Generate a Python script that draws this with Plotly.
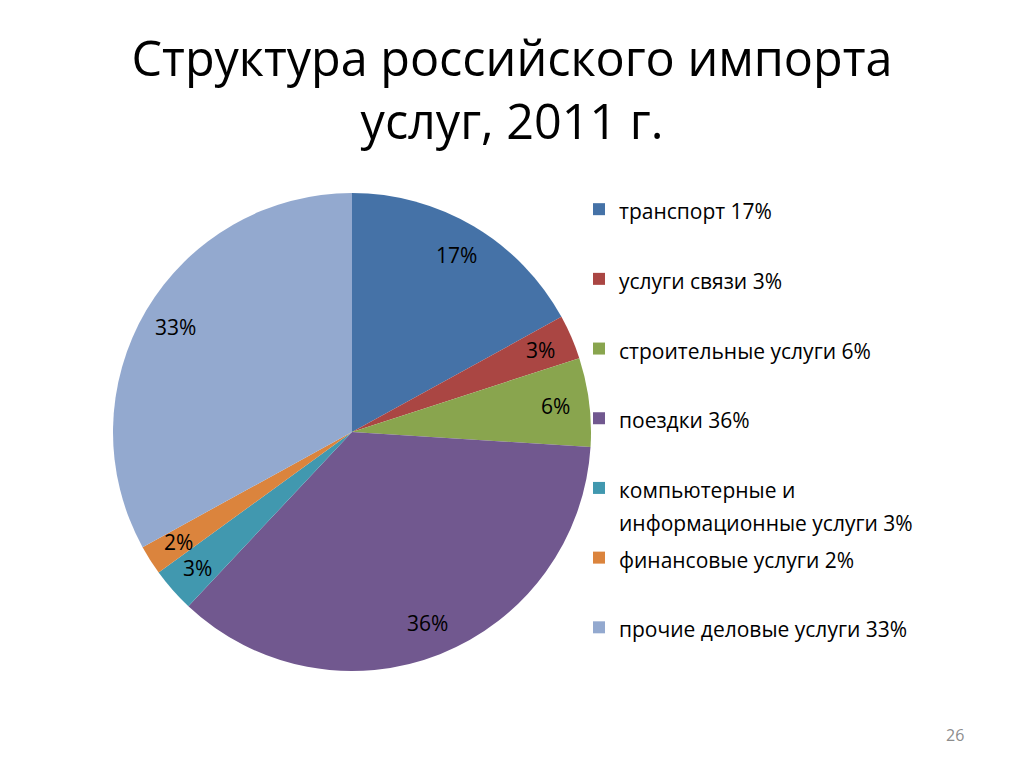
import math
import plotly.graph_objects as go

# ---- data ----
categories = [
    "транспорт",
    "услуги связи",
    "строительные услуги",
    "поездки",
    "компьютерные и<br>информационные услуги",
    "финансовые услуги",
    "прочие деловые услуги",
]
shares = [17, 3, 6, 36, 3, 2, 33]
colors = ["#4572A7", "#AA4643", "#89A54E", "#71588F", "#4198AF", "#DB843D", "#93A9CF"]
title_text = "Структура российского импорта<br>услуг, 2011 г."
page_number = "26"

W, H = 1024, 767
FONT = "Open Sans, Lato, Liberation Sans, sans-serif"
LEG_SIZE = 25.65   # sets the legend row pitch (2 lines per entry)
LEG_TEXT = 21      # visible legend text size

# pie box in pixels
px0, px1, py0, py1 = 113, 591, 193, 671
cxp, cyp = (px0 + px1) / 2, (py0 + py1) / 2
R = (px1 - px0) / 2


def legend_label(cat, val):
    lines = (cat + f" {val}%").split("<br>")
    lines = [f"<span style='font-size:{LEG_TEXT}px'>{l}</span>" for l in lines]
    while len(lines) < 2:
        lines.append("\u00a0")
    return "<br>".join(lines)


labels = [legend_label(c, v) for c, v in zip(categories, shares)]

fig = go.Figure()
fig.add_trace(go.Pie(
    labels=labels,
    values=shares,
    sort=False,
    direction="clockwise",
    rotation=0,
    marker=dict(colors=colors, line=dict(width=0)),
    textinfo="none",
    hoverinfo="skip",
    domain=dict(x=[px0 / W, px1 / W], y=[1 - py1 / H, 1 - py0 / H]),
))

# data labels, placed at mid-angle of each slice
annotations = []
total = sum(shares)
cum = 0
for v in shares:
    mid = (cum + v / 2) / total * 2 * math.pi
    cum += v
    r = 0.86 * R
    x = cxp + r * math.sin(mid)
    y = cyp - r * math.cos(mid)
    annotations.append(dict(
        x=x / W, y=1 - y / H, xref="paper", yref="paper",
        text=f"{v}%", showarrow=False,
        font=dict(family=FONT, size=21, color="#000000"),
        xanchor="center", yanchor="middle",
    ))

annotations.append(dict(
    x=955 / W, y=1 - 735 / H, xref="paper", yref="paper",
    text=page_number, showarrow=False,
    font=dict(family=FONT, size=16, color="#8C8C8C"),
    xanchor="center", yanchor="middle",
))

fig.update_layout(
    width=W, height=H,
    margin=dict(l=0, r=0, t=0, b=0),
    paper_bgcolor="#FFFFFF",
    plot_bgcolor="#FFFFFF",
    title=dict(
        text=title_text,
        x=0.5, xanchor="center",
        y=1 - 76 / H, yanchor="top", yref="container",
        font=dict(family=FONT, size=48.5, color="#000000"),
    ),
    showlegend=True,
    legend=dict(
        x=579 / W, xanchor="left",
        y=1 - 186 / H, yanchor="top",
        font=dict(family=FONT, size=LEG_SIZE, color="#000000"),
        valign="top",
        bgcolor="rgba(0,0,0,0)",
        itemclick=False, itemdoubleclick=False,
    ),
    annotations=annotations,
)

fig.write_html(
    "out.html",
    config={"displayModeBar": False},
    post_script="document.body.style.margin='0px';",
)
